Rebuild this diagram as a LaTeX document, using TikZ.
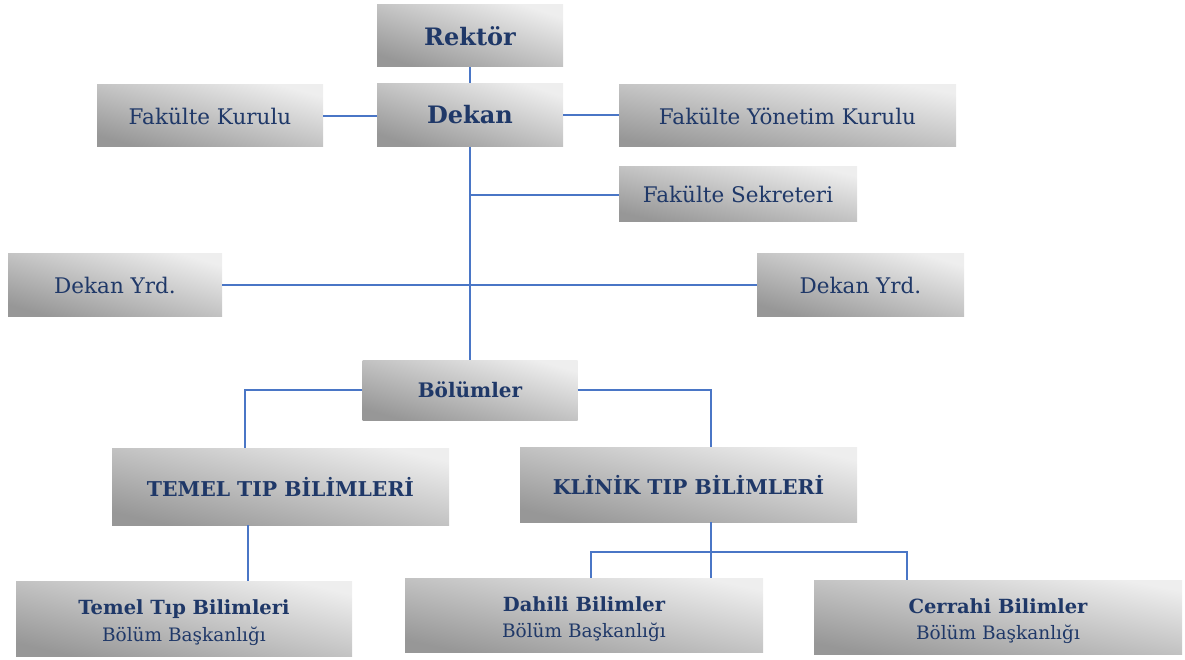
\documentclass[tikz,border=0pt]{standalone}
\usepackage{fontspec}
\setmainfont{DejaVu Serif}
\definecolor{navy}{HTML}{1F3868}
\definecolor{conn}{HTML}{4A76C6}
\definecolor{boxlight}{HTML}{EEEEEE}
\definecolor{boxdark}{HTML}{979797}
\tikzset{
  box/.style={inner sep=0pt, align=center, text=navy,
    top color=boxlight, bottom color=boxdark, shading angle=#1},
  box/.default=-13,
  link/.style={draw=conn, line width=1.3pt},
  big/.style={font=\fontsize{24}{28}\selectfont\bfseries},
  reg/.style={font=\fontsize{21.5}{25}\selectfont},
  mid/.style={font=\fontsize{20.4}{24}\selectfont\bfseries},
  two/.style={font=\fontsize{18.5}{26.5}\selectfont}
}
\newcommand{\twoline}[1]{\raisebox{-4pt}[\height][\depth]{\begin{tabular}{@{}c@{}}{\fontsize{19.5}{26}\selectfont\bfseries #1}\\Bölüm Başkanlığı\end{tabular}}}
\begin{document}
\begin{tikzpicture}[x=1pt,y=-1pt]
\useasboundingbox (0,0) rectangle (1185,660);
\node[box=-18,big,minimum width=186,minimum height=62] (rektor) at (470,36) {Rektör};
\node[box=-18,big,minimum width=186,minimum height=63] (dekan) at (470,115) {Dekan};
\node[box=-15,reg,minimum width=226,minimum height=62] (fk) at (210,116) {Fakülte Kurulu};
\node[box=-10,reg,minimum width=337,minimum height=62] (fyk) at (787.5,116) {Fakülte Yönetim Kurulu};
\node[box=-13,reg,minimum width=238,minimum height=55] (sek) at (738,194) {Fakülte Sekreteri};
\node[box=-16,reg,minimum width=214,minimum height=63] (dy1) at (115,285) {Dekan Yrd.};
\node[box=-16,reg,minimum width=207,minimum height=62] (dy2) at (860.5,285) {Dekan Yrd.};
\node[box=-16,font=\fontsize{20}{24}\selectfont\bfseries,minimum width=215,minimum height=60] (bol) at (470,390) {Bölümler};
\node[box,mid,minimum width=337,minimum height=77] (temel) at (280.5,486.5) {TEMEL TIP BİLİMLERİ};
\node[box,mid,minimum width=337,minimum height=75] (klinik) at (688.5,484.5) {KLİNİK TIP BİLİMLERİ};
\node[box,two,minimum width=336,minimum height=75] (tb) at (184,618.5) {\twoline{Temel Tıp Bilimleri}};
\node[box=-12,two,minimum width=358,minimum height=74] (dah) at (584,615) {\twoline{Dahili Bilimler}};
\node[box=-11,two,minimum width=368,minimum height=74] (cer) at (998,617) {\twoline{Cerrahi Bilimler}};
\coordinate (sj) at (470,195);
\coordinate (kj) at (711,552);
\draw[link] (rektor) -- (dekan);
\draw[link] (fk.east) -- (fk.east -| dekan.west);
\draw[link] (dekan.east) -- (dekan.east -| fyk.west);
\draw[link] (dekan.south) -- (bol.north);
\draw[link] (sj) -- (sj -| sek.west);
\draw[link] (dy1.east) -- (dy2.west);
\draw[link] (bol.west) -| ([xshift=-35.5pt]temel.north);
\draw[link] (bol.east) -| ([xshift=22.5pt]klinik.north);
\draw[link] ([xshift=-32.5pt]temel.south) -- ([xshift=-32.5pt]temel.south |- tb.north);
\draw[link] ([xshift=22.5pt]klinik.south) -- ([xshift=22.5pt]klinik.south |- dah.north);
\draw[link] ([xshift=7pt]dah.north) |- (kj) -| ([xshift=-91pt]cer.north);
\end{tikzpicture}
\end{document}
